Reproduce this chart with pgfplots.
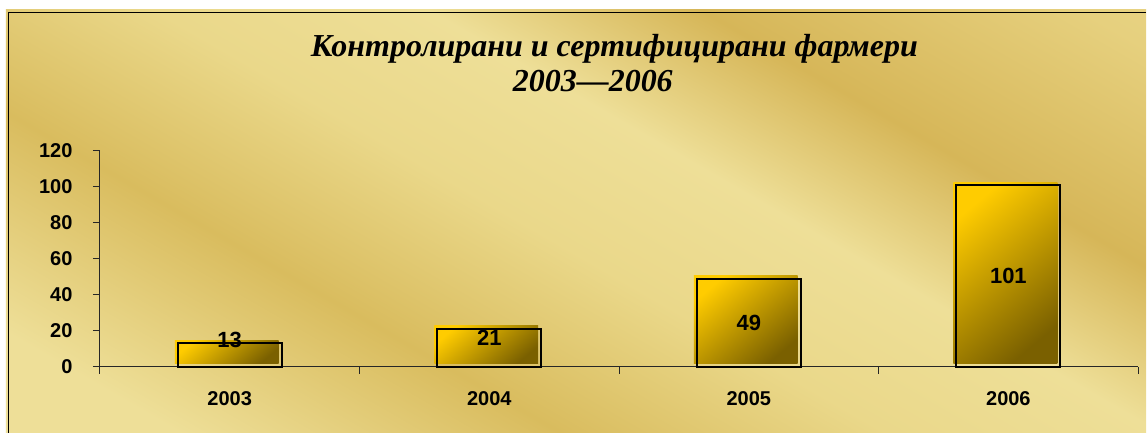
\documentclass[border=0pt]{standalone}
\usepackage{fontspec}
\setmainfont{Liberation Sans}
\newfontfamily\titlefont{Liberation Serif}
\usepackage{pgfplots}
\pgfplotsset{compat=1.18}
\usepackage{pgfplotstable}
\definecolor{bgA}{HTML}{EEDF98}
\definecolor{bgB}{HTML}{D9BC5E}
\definecolor{bgC}{HTML}{EAD88A}
\definecolor{bgD}{HTML}{D6B658}
\definecolor{bgE}{HTML}{E6D07E}
\definecolor{barTop}{HTML}{FFCC00}
\definecolor{barBot}{HTML}{7A6000}
\pgfdeclarehorizontalshading{goldbg}{100bp}{
  color(0bp)=(bgA); color(22bp)=(bgA); color(36bp)=(bgB); color(48bp)=(bgC);
  color(58bp)=(bgA); color(68bp)=(bgD); color(82bp)=(bgE); color(100bp)=(bgA)}
\pgfplotstableread{
x v ly
0 13 15
1 21 16
2 49 24.5
3 101 50.5
}\datatable
\pgfplotsset{
  goldbar/.style={ybar, bar width=0.4, bar shift=0pt, draw=none,
    top color=barTop, bottom color=barBot, shading angle=40,
    xshift=-3pt, yshift=3pt}
}
\begin{document}
\begin{tikzpicture}[x=1pt,y=1pt]
\fill[white] (0,0) rectangle (1147,433);
\shade[shading=goldbg, shading angle=60] (6,0) rectangle (1147,423);
\draw[line width=1.6pt, black] (8.5,0) -- (8.5,420.5) -- (1147,420.5);
\node[anchor=base west, inner sep=0pt, font=\titlefont\bfseries\itshape\fontsize{32}{36}\selectfont] at (311,376) {Контролирани и сертифицирани фармери};
\node[anchor=base west, inner sep=0pt, font=\titlefont\bfseries\itshape\fontsize{32}{36}\selectfont] at (513,341) {2003—2006};
\begin{axis}[
  at={(100pt,66pt)}, anchor=south west,
  width=1039pt, height=216pt, scale only axis,
  xmin=-0.5, xmax=3.5, ymin=0, ymax=120,
  axis lines=left,
  axis line style={-, line width=1pt, black!85},
  tick align=outside,
  major tick length=7pt,
  tick style={line width=1pt, black!85},
  ytick={0,20,...,120},
  xtick={-0.5,0.5,1.5,2.5,3.5},
  xticklabels={},
  extra x ticks={0,1,2,3},
  extra x tick labels={2003,2004,2005,2006},
  extra x tick style={major tick length=0pt, tick style={draw=none},
     xticklabel style={yshift=-21pt}},
  yticklabel style={xshift=-17pt},
  /pgf/number format/assume math mode=true,
  ticklabel style={font=\bfseries\fontsize{20}{24}\selectfont, text=black},
  clip=false,
]
\addplot[goldbar] table[x=x, y=v, skip coords between index={1}{4}] {\datatable};
\addplot[goldbar] table[x=x, y=v, skip coords between index={0}{1}, skip coords between index={2}{4}] {\datatable};
\addplot[goldbar] table[x=x, y=v, skip coords between index={0}{2}, skip coords between index={3}{4}] {\datatable};
\addplot[goldbar] table[x=x, y=v, skip coords between index={0}{3}] {\datatable};
\addplot[ybar, bar width=0.4, bar shift=0pt, fill=none, draw=black, line width=2pt]
  table[x=x, y=v] {\datatable};
\addplot[draw=none, mark=none, nodes near coords, point meta=explicit symbolic,
  every node near coord/.append style={anchor=center, font=\bfseries\fontsize{22}{26}\selectfont, text=black}]
  table[x=x, y=ly, meta=v] {\datatable};
\end{axis}
\end{tikzpicture}
\end{document}
